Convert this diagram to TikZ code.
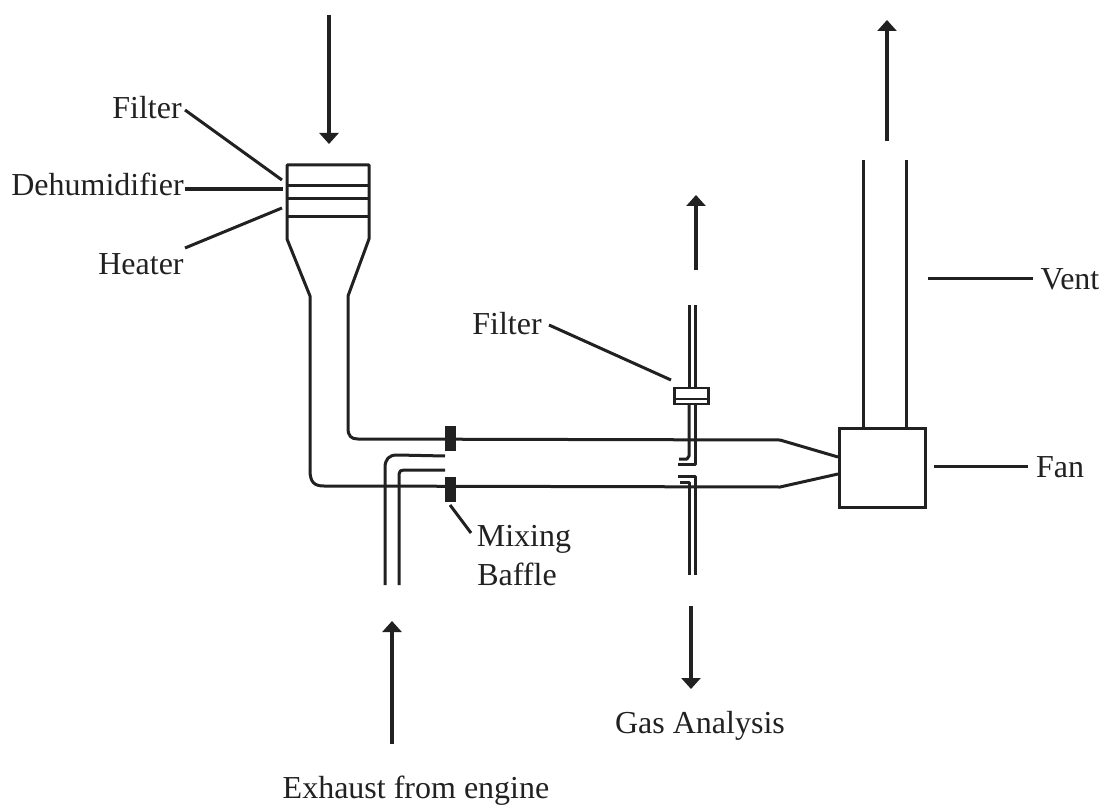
\documentclass[tikz,border=0pt]{standalone}
\usepackage{fontspec}
\setmainfont{Liberation Serif}
\usetikzlibrary{arrows.meta}
\definecolor{ink}{gray}{0.13}
\tikzset{
  pipe/.style={draw=ink,line width=3pt,line join=round},
  thinpipe/.style={draw=ink,line width=3pt,line join=round},
  leader/.style={draw=ink,line width=3pt},
  flow/.style={draw=ink,line width=4pt,-{Triangle[length=11pt,width=19pt]}},
  lbl/.style={font=\fontsize{32}{36}\selectfont,text=ink,inner sep=0pt,anchor=base},
  baffle/.style={fill=ink,draw=none,minimum width=11pt,inner sep=0pt},
}
\begin{document}
\begin{tikzpicture}[x=1pt,y=-1pt]
\useasboundingbox (0,0) rectangle (1113,810);
% labels
\node[lbl] (tFilter) at (147,119) {Filter};
\node[lbl] (tDehum) at (97.5,196) {Dehumidifier};
\node[lbl] (tHeater) at (141,275) {Heater};
\node[lbl] (tFilterB) at (507,334) {Filter};
\node[lbl] (tMix) at (524,546) {Mixing};
\node[lbl] (tBaf) at (517,585) {Baffle};
\node[lbl] (tGas) at (700,733) {Gas Analysis};
\node[lbl] (tExh) at (416,798) {Exhaust from engine};
\node[lbl] (tVent) at (1070,289) {Vent};
\node[lbl] (tFan) at (1060,477) {Fan};
% free points
\coordinate (a1) at (329,15);  \coordinate (a2) at (329,144);
\coordinate (b1) at (887,141); \coordinate (b2) at (887,20);
\coordinate (c1) at (696,270); \coordinate (c2) at (696,195);
\coordinate (d1) at (691,606); \coordinate (d2) at (691,689);
\coordinate (e1) at (392,744); \coordinate (e2) at (392,621);
% filter stack
\draw[pipe] (310,470) -- (310,296) -- (287,239) -- (287,165) -- (369,165) -- (369,239) -- (348,296) -- (348,428)
   .. controls (348,436) and (351,439) .. (358,439) -- (780,440) -- (838,457);
\draw[pipe] (310,470) .. controls (310,482) and (314,486) .. (324,486) -- (780,487) -- (838,474);
\draw[pipe] (287,186) -- (369,186);
\draw[pipe] (287,199) -- (369,199);
\draw[pipe] (287,217) -- (369,217);
% exhaust inlet
\draw[thinpipe] (385,585) -- (385,468) .. controls (385,459) and (389,455) .. (397,455) -- (445,456);
\draw[thinpipe] (399,585) -- (399,474) .. controls (399,471) and (401,470) .. (404,470) -- (445,470);
% baffles
\node[baffle,minimum height=25pt] (bafU) at (450,438) {};
\node[baffle,minimum height=25pt] (bafL) at (450,489) {};
% fan and vent
\node[draw=ink,line width=3pt,fill=white,minimum width=86pt,minimum height=79pt,inner sep=0pt] (fan) at (882.5,467.5) {};
\draw[pipe] (863,160) -- (863,427);
\draw[pipe] (906,160) -- (906,427);
% sampling probe
\draw[thinpipe] (689,305) -- (689,388);
\draw[thinpipe] (695,305) -- (695,388);
\draw[thinpipe] (689,405) -- (689,456) -- (687,459) -- (679,459);
\draw[thinpipe] (695,405) -- (695,464) -- (678,464);
\draw[thinpipe] (678,476) -- (695,476) -- (695,575);
\draw[thinpipe] (680,482) -- (689,482) -- (689,575);
\node[draw=ink,line width=2.4pt,fill=white,minimum width=34pt,minimum height=16pt,inner sep=0pt] (fbox) at (691.5,396) {};
\draw[line width=2.4pt,draw=ink] (fbox.west |- 0,399) -- (fbox.east |- 0,399);
% leaders
\draw[leader] (185,110) -- (282,180);
\draw[leader,line width=3.6pt] (185,189) -- (283,189);
\draw[leader] (185,248) -- (282,208);
\draw[leader] (549,325) -- (671,380);
\draw[leader] (450,505) -- (471,533);
\draw[leader] (928,278) -- (1033,278);
\draw[leader] (934,466) -- (1028,466);
% flows
\draw[flow] (a1) -- (a2);
\draw[flow] (b1) -- (b2);
\draw[flow] (c1) -- (c2);
\draw[flow] (d1) -- (d2);
\draw[flow] (e1) -- (e2);
\end{tikzpicture}
\end{document}
